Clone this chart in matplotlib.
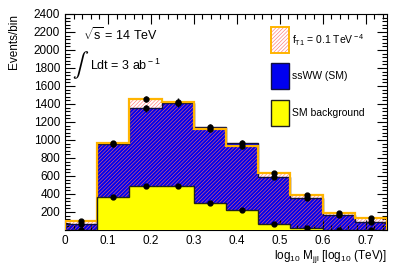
import numpy as np
import matplotlib
matplotlib.use("Agg")
import matplotlib.pyplot as plt
from matplotlib.patches import Rectangle
from matplotlib.ticker import MultipleLocator

plt.rcParams['font.family'] = ['Liberation Sans', 'DejaVu Sans']
plt.rcParams['mathtext.fontset'] = 'custom'
plt.rcParams['mathtext.rm'] = 'Liberation Sans'
plt.rcParams['mathtext.it'] = 'Liberation Sans'
plt.rcParams['hatch.linewidth'] = 0.4

# ---- data ----
bin_edges = [0.0, 0.075, 0.15, 0.225, 0.3, 0.375, 0.45, 0.525, 0.6, 0.675, 0.75]
sm_background = [5, 365, 493, 488, 296, 225, 67, 19, 5, 2]
ssww_sm = [65, 590, 859, 919, 852, 743, 526, 333, 162, 91]
signal_total = [95, 963, 1455, 1426, 1119, 935, 630, 389, 193, 137]
signal_err = [10, 31, 38, 38, 33, 31, 25, 20, 14, 12]
sm_err = [8, 31, 37, 38, 34, 31, 24, 19, 13, 10]
bkg_err = [2, 19, 22, 22, 17, 15, 8, 4, 2, 1]
legend_labels = [r"f$_{\rm T1}$ = 0.1 TeV$^{\rm -4}$", "ssWW (SM)", "SM background"]

edges = np.array(bin_edges)
centers = 0.5 * (edges[:-1] + edges[1:])
bkg = np.array(sm_background)
sm_total = bkg + np.array(ssww_sm)
sig = np.array(signal_total)

BLUE = '#0000F0'
YELLOW = '#FFFF00'
ORANGE = '#FFB400'
PINK = '#FF6A6A'
HATCH = '/////////'

fig = plt.figure(figsize=(4.07, 2.76), dpi=100)
ax = fig.add_axes([65/407, 46/276, 322/407, 216/276])

# blue SM total
ax.stairs(sm_total, edges, fill=True, facecolor=BLUE, edgecolor='none', baseline=0, zorder=1)
# hatched signal
ax.stairs(sig, edges, fill=True, facecolor='none', edgecolor=PINK, hatch=HATCH, linewidth=0, baseline=0, zorder=2)
# blue outline
ax.stairs(sm_total, edges, fill=False, edgecolor='#101040', linewidth=1.0, baseline=0, zorder=3)
# orange outline
ax.stairs(sig, edges, fill=False, edgecolor=ORANGE, linewidth=1.6, baseline=0, zorder=4)
# yellow background
ax.stairs(bkg, edges, fill=True, facecolor=YELLOW, edgecolor='none', baseline=0, zorder=5)
ax.stairs(bkg, edges, fill=False, edgecolor='#202020', linewidth=1.0, baseline=0, zorder=6)

for vals, errs in [(sig, signal_err), (sm_total, sm_err), (bkg, bkg_err)]:
    ax.errorbar(centers, vals, yerr=errs, fmt='o', color='black', ms=3.5,
                elinewidth=1.0, capsize=0, zorder=7)

ax.set_xlim(0, 0.75)
ax.set_ylim(0, 2400)
ax.xaxis.set_major_locator(MultipleLocator(0.1))
ax.xaxis.set_minor_locator(MultipleLocator(0.02))
ax.yaxis.set_major_locator(MultipleLocator(200))
ax.yaxis.set_minor_locator(MultipleLocator(40))
ax.tick_params(which='both', direction='in', top=True, right=True, labelsize=8.5, width=0.8)
ax.tick_params(which='major', length=7)
ax.tick_params(which='minor', length=3.5)
ax.set_xticks([0, 0.1, 0.2, 0.3, 0.4, 0.5, 0.6, 0.7])
ax.set_xticklabels(['0', '0.1', '0.2', '0.3', '0.4', '0.5', '0.6', '0.7'])
ax.set_yticks(np.arange(200, 2401, 200))
for s in ax.spines.values():
    s.set_linewidth(0.8)

ax.set_ylabel('Events/bin', loc='top', fontsize=8.5)
ax.yaxis.set_label_coords(-0.14, 1.0)
ax.set_xlabel(r'log$_{\rm 10}$ M$_{\rm jjl}$ [log$_{\rm 10}$ (TeV)]', loc='right', fontsize=8.5)
ax.xaxis.set_label_coords(1.0, -0.085)

ax.text(0.055, 0.905, r'$\sqrt{s}$ = 14 TeV', transform=ax.transAxes, fontsize=9, va='center')
ax.text(0.022, 0.765, r'$\int$', transform=ax.transAxes, fontsize=17, va='center',
        math_fontfamily='stix')
ax.text(0.078, 0.762, r'Ldt = 3 ab$^{\rm -1}$', transform=ax.transAxes, fontsize=9, va='center')

# legend
lx, lw_ = 0.640, 0.056
boxes = [
    (0.819, None),
    (0.653, dict(facecolor=BLUE, edgecolor='#101040', linewidth=1.0)),
    (0.481, dict(facecolor=YELLOW, edgecolor='#202020', linewidth=1.0)),
]
for (y0, kw), lab in zip(boxes, legend_labels):
    if kw is None:
        ax.add_patch(Rectangle((lx, y0), lw_, 0.121, transform=ax.transAxes, facecolor='white',
                               edgecolor=PINK, hatch=HATCH, linewidth=0, zorder=8))
        ax.add_patch(Rectangle((lx, y0), lw_, 0.121, transform=ax.transAxes, facecolor='none',
                               edgecolor=ORANGE, linewidth=1.4, zorder=9))
    else:
        ax.add_patch(Rectangle((lx, y0), lw_, 0.121, transform=ax.transAxes, zorder=8, **kw))
    ax.text(0.705, y0 + 0.06, lab, transform=ax.transAxes, fontsize=7.5, va='center')

fig.savefig('out.png', dpi=100)
